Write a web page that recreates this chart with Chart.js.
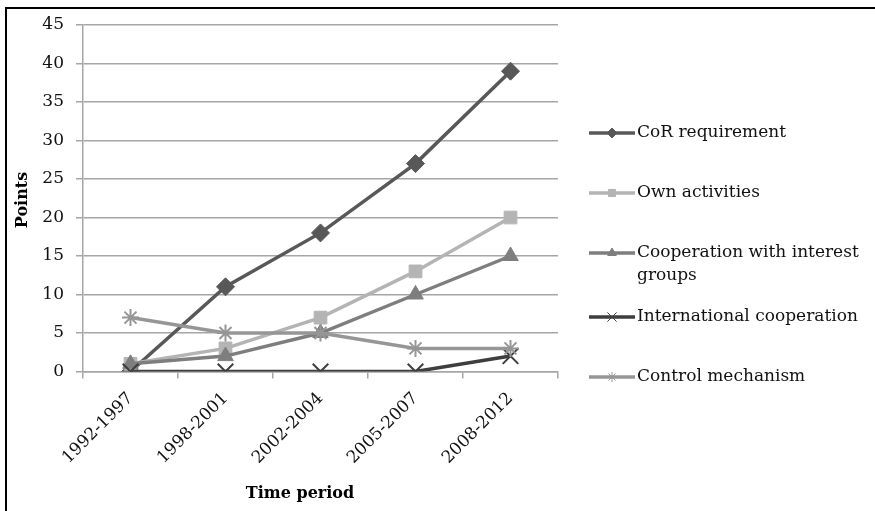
<!DOCTYPE html>
<html>
<head>
<meta charset="utf-8">
<script src="https://cdn.jsdelivr.net/npm/chart.js@4.4.1/dist/chart.umd.min.js"></script>
<style>
  html, body { margin: 0; padding: 0; background: #fff; }
  #wrap { position: relative; width: 875px; height: 511px; }
  #frame { position: absolute; left: 5px; top: 7px; width: 880px; height: 520px;
           border-top: 2px solid #000; border-left: 2px solid #000; pointer-events: none; }
  canvas { position: absolute; left: 0; top: 0; }
</style>
</head>
<body>
<div id="wrap">
  <canvas id="c" width="875" height="511"></canvas>
  <div id="frame"></div>
</div>
<script>
// Time periods on the category axis
const periods = ['1992-1997', '1998-2001', '2002-2004', '2005-2007', '2008-2012'];

// Points per period for each theme
const corRequirement = [0, 11, 18, 27, 39];
const ownActivities = [1, 3, 7, 13, 20];
const interestGroups = [1, 2, 5, 10, 15];
const internationalCoop = [0, 0, 0, 0, 2];
const controlMechanism = [7, 5, 5, 3, 3];

// Value axis ticks
const yTicks = [0, 5, 10, 15, 20, 25, 30, 35, 40, 45];

const seriesNames = [
  'CoR requirement',
  'Own activities',
  ['Cooperation with interest', 'groups'],
  'International cooperation',
  'Control mechanism'
];

const FONT = '"DejaVu Serif", "Liberation Serif", serif';

function series(label, data, color, style, radius, order) {
  return {
    label: Array.isArray(label) ? label.join(' ') : label,
    data: data,
    borderColor: color,
    backgroundColor: color,
    pointBackgroundColor: color,
    pointBorderColor: color,
    borderWidth: 3.5,
    pointStyle: style,
    pointRadius: radius,
    pointHoverRadius: radius,
    pointBorderWidth: style === 'crossRot' || style === 'star' ? 2 : 1,
    tension: 0,
    order: order
  };
}

const datasets = [
  series(seriesNames[0], corRequirement, '#585858', 'rectRot', 9, 4),
  series(seriesNames[1], ownActivities, '#b4b4b4', 'rect', 9, 3),
  series(seriesNames[2], interestGroups, '#7e7e7e', 'triangle', 9, 2),
  series(seriesNames[3], internationalCoop, '#3e3e3e', 'crossRot', 11, 1),
  series(seriesNames[4], controlMechanism, '#969696', 'star', 8.5, 0)
];

// Legend beside the plot, plus the two axis titles
const decorations = {
  id: 'decorations',
  afterDraw(chart) {
    const ctx = chart.ctx;
    ctx.save();
    // axis titles
    ctx.fillStyle = '#000';
    ctx.font = 'bold 16px ' + FONT;
    ctx.textAlign = 'center';
    ctx.textBaseline = 'middle';
    ctx.fillText('Time period', 300, 494);
    ctx.save();
    ctx.translate(23, 200);
    ctx.rotate(-Math.PI / 2);
    ctx.fillText('Points', 0, 0);
    ctx.restore();

    // legend entries
    const rows = [133, 193, 253, 317, 377];
    chart.data.datasets.forEach((ds, i) => {
      const y = rows[i];
      ctx.strokeStyle = ds.borderColor;
      ctx.lineWidth = 3.5;
      ctx.beginPath();
      ctx.moveTo(589, y);
      ctx.lineTo(635, y);
      ctx.stroke();
      ctx.fillStyle = ds.pointBackgroundColor;
      ctx.strokeStyle = ds.pointBorderColor;
      ctx.lineWidth = 1;
      const r = ds.pointStyle === 'crossRot' ? 6.5 : 5;
      Chart.helpers.drawPoint(ctx, { pointStyle: ds.pointStyle, rotation: 0, radius: r, borderWidth: 1 }, 612, y);
      ctx.fillStyle = '#111';
      ctx.font = '17px ' + FONT;
      ctx.textAlign = 'left';
      ctx.textBaseline = 'middle';
      const lab = seriesNames[i];
      if (Array.isArray(lab)) {
        lab.forEach((t, k) => ctx.fillText(t, 637, y + k * 23));
      } else {
        ctx.fillText(lab, 637, y);
      }
    });
    ctx.restore();
  }
};

new Chart(document.getElementById('c'), {
  type: 'line',
  data: { labels: periods, datasets: datasets },
  plugins: [decorations],
  options: {
    responsive: false,
    animation: false,
    events: [],
    layout: { padding: { left: 0, top: 25, right: 317, bottom: 0 } },
    plugins: { legend: { display: false }, tooltip: { enabled: false } },
    scales: {
      x: {
        offset: true,
        grid: { offset: true, drawOnChartArea: false, drawTicks: true, tickLength: 7, color: '#a6a6a6', lineWidth: 1.5 },
        border: { display: true, color: '#a6a6a6', width: 1.5 },
        ticks: {
          color: '#111',
          font: { family: FONT, size: 17 },
          maxRotation: 45, minRotation: 45,
          padding: 10,
          autoSkip: false
        },
        afterFit(axis) { axis.height = 139.5; }
      },
      y: {
        min: 0, max: 45,
        afterBuildTicks(axis) { axis.ticks = yTicks.map(v => ({ value: v })); },
        grid: { color: '#a6a6a6', lineWidth: 1.5, tickLength: 7 },
        border: { display: true, color: '#a6a6a6', width: 1.5 },
        ticks: { color: '#111', font: { family: FONT, size: 17 }, padding: 12 },
        afterFit(axis) { axis.width = 83; }
      }
    }
  }
});
</script>
</body>
</html>
